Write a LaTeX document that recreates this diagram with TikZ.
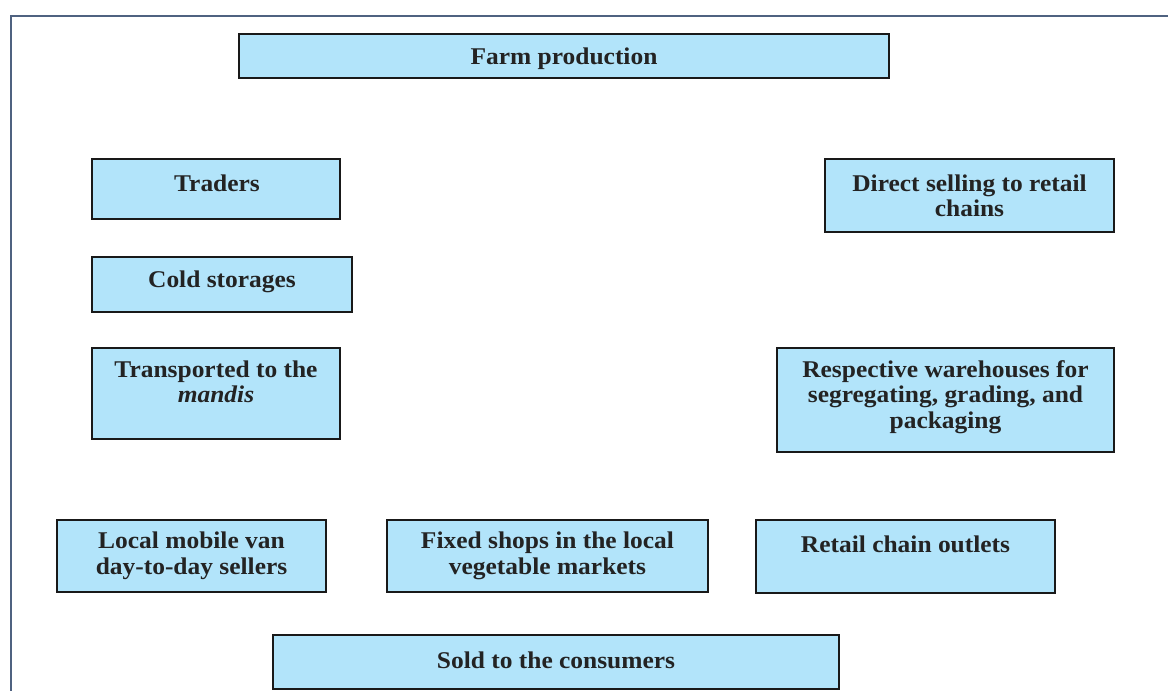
\documentclass[tikz,border=0pt]{standalone}
\usepackage{fontspec}
\setmainfont{Liberation Serif}[FakeStretch=1.06]
\definecolor{boxblue}{RGB}{178,228,250}
\definecolor{framec}{RGB}{79,98,128}
\definecolor{txtc}{RGB}{35,35,35}
\begin{document}
\begin{tikzpicture}[x=1pt,y=-1pt,
  box/.style={draw=black!90, line width=1.8pt, fill=boxblue, inner sep=0pt},
  txt/.style={align=center, text=txtc, font=\fontsize{24}{25.5}\selectfont\bfseries, inner sep=0pt}]
\useasboundingbox (0,0) rectangle (1168,691);
% frame
\coordinate (fbl) at (11,691);
\coordinate (ftl) at (11,16);
\coordinate (ftr) at (1168,16);
\draw[framec, line width=2pt] (fbl) -- (ftl) -- (ftr);
% boxes
\node[box, minimum width=650pt, minimum height=44pt] (farm) at (564,56) {};
\node[box, minimum width=248pt, minimum height=60pt] (traders) at (216,189) {};
\node[box, minimum width=289pt, minimum height=73pt] (direct) at (969.5,195.5) {};
\node[box, minimum width=260pt, minimum height=55pt] (cold) at (222,284.5) {};
\node[box, minimum width=248pt, minimum height=91pt] (trans) at (216,393.5) {};
\node[box, minimum width=337pt, minimum height=104pt] (resp) at (945.5,400) {};
\node[box, minimum width=269pt, minimum height=72pt] (local) at (191.5,556) {};
\node[box, minimum width=321pt, minimum height=72pt] (fixed) at (547.5,556) {};
\node[box, minimum width=299pt, minimum height=73pt] (retail) at (905.5,556.5) {};
\node[box, minimum width=566pt, minimum height=54pt] (sold) at (556,662) {};
% texts
\node[txt] (tfarm) at (564,59) {Farm production};
\node[txt] (ttraders) at (217,183) {Traders};
\node[txt] (tdirect) at (969.5,196) {Direct selling to retail\\chains};
\node[txt] (tcold) at (222,282) {Cold storages};
\node[txt] (ttrans) at (216,382) {Transported to the\\\textit{mandis}};
\node[txt] (tresp) at (945.5,397) {Respective warehouses for\\segregating, grading, and\\packaging};
\node[txt] (tlocal) at (191.5,556) {Local mobile van\\day-to-day sellers};
\node[txt] (tfixed) at (547.5,556) {Fixed shops in the local\\vegetable markets};
\node[txt] (tretail) at (905.5,544) {Retail chain outlets};
\node[txt] (tsold) at (556,660) {Sold to the consumers};
\end{tikzpicture}
\end{document}
